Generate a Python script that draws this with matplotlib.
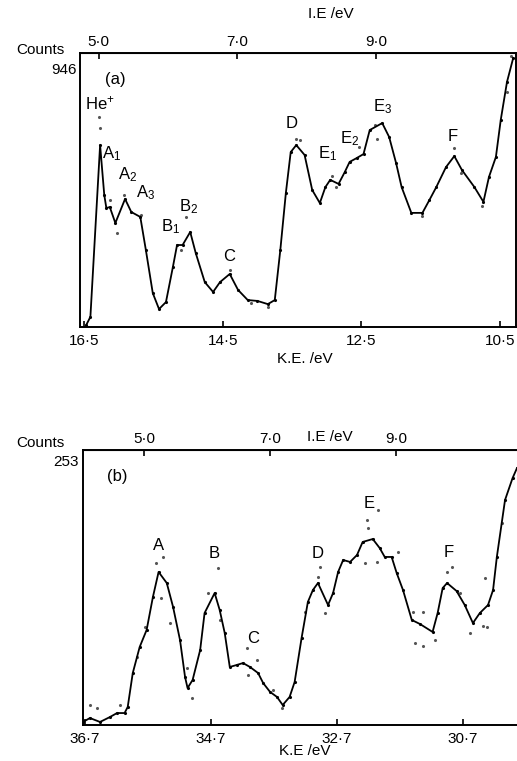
import matplotlib
matplotlib.use('Agg')
import matplotlib.pyplot as plt
from matplotlib.ticker import FuncFormatter

plt.rcParams['font.family'] = ['Liberation Sans', 'DejaVu Sans']
plt.rcParams['mathtext.default'] = 'regular'

# ---- panel (a): He I spectrum, kinetic energy (eV) vs counts
ke_a = [16.47, 16.41, 16.27, 16.21, 16.18, 16.13, 16.05, 15.91, 15.82, 15.69,
        15.61, 15.51, 15.42, 15.32, 15.22, 15.16, 15.08, 14.97, 14.89, 14.76,
        14.64, 14.54, 14.40, 14.28, 14.14, 14.00, 13.85, 13.75, 13.67, 13.59,
        13.52, 13.44, 13.32, 13.21, 13.10, 13.02, 12.95, 12.83, 12.74, 12.67,
        12.57, 12.47, 12.38, 12.20, 12.10, 12.00, 11.92, 11.78, 11.62, 11.52,
        11.42, 11.28, 11.16, 11.05, 10.87, 10.74, 10.66, 10.56, 10.49, 10.40,
        10.31]
counts_a = [7, 35, 628, 456, 411, 414, 359, 442, 397, 380,
            266, 117, 62, 86, 207, 283, 283, 328, 255, 155,
            121, 155, 183, 128, 93, 90, 79, 93, 266, 463,
            604, 628, 594, 473, 428, 483, 508, 494, 535, 570,
            583, 597, 680, 704, 656, 566, 483, 394, 394, 438,
            483, 552, 590, 542, 483, 432, 518, 587, 715, 846,
            929]
raw_ke_a = [16.28, 16.27, 16.13, 16.03, 15.92, 15.68, 15.03, 15.10, 14.40, 14.10,
            13.85, 13.44, 13.39, 12.93, 12.86, 12.53, 12.28, 12.31, 11.16, 11.06,
            10.76, 10.40, 10.34, 11.62]
raw_counts_a = [725, 687, 438, 325, 456, 387, 380, 266, 197, 83,
                69, 649, 646, 521, 483, 621, 649, 697, 618, 532,
                418, 811, 936, 383]
peaks_a = ['He$^{+}$', 'A$_1$', 'A$_2$', 'A$_3$', 'B$_1$', 'B$_2$', 'C', 'D',
           'E$_1$', 'E$_2$', 'E$_3$', 'F']
peak_ke_a = [16.27, 16.10, 15.88, 15.62, 15.26, 14.99, 14.41, 13.51, 12.99, 12.67, 12.20, 11.18]
peak_counts_a = [773, 597, 525, 463, 345, 414, 245, 701, 597, 649, 760, 659]

# ---- panel (b): He II spectrum
ke_b = [36.73, 36.62, 36.46, 36.30, 36.19, 36.07, 36.02, 35.94, 35.83, 35.72,
        35.62, 35.53, 35.40, 35.30, 35.19, 35.11, 35.07, 34.99, 34.87, 34.80,
        34.64, 34.56, 34.48, 34.40, 34.29, 34.19, 34.08, 33.95, 33.87, 33.76,
        33.65, 33.56, 33.45, 33.37, 33.26, 33.16, 33.08, 33.00, 32.84, 32.76,
        32.68, 32.60, 32.49, 32.38, 32.29, 32.13, 32.02, 31.94, 31.83, 31.75,
        31.65, 31.51, 31.38, 31.18, 31.10, 31.02, 30.95, 30.80, 30.67, 30.54,
        30.43, 30.30, 30.22, 30.16, 30.03, 29.91, 29.84]
counts_b = [2.8, 6.4, 2.8, 7.4, 11.0, 11.0, 16.6, 47.8, 71.8, 87.4,
            117.8, 140.8, 130.6, 108.6, 78.2, 44.2, 34.0, 41.4, 69.0, 103.0,
            121.4, 105.8, 84.6, 53.4, 55.2, 57.0, 53.4, 47.8, 38.6, 30.4,
            25.8, 18.4, 25.8, 39.6, 80.0, 113.2, 124.2, 130.6, 110.4, 121.4,
            140.8, 151.8, 150.0, 156.4, 168.4, 171.1, 162.8, 154.6, 154.6, 139.8,
            124.2, 96.6, 92.9, 85.6, 103.0, 126.0, 130.6, 123.3, 110.4, 93.8,
            103.0, 110.4, 124.2, 154.6, 207.0, 227.2, 236.4]
raw_ke_b = [35.57, 35.46, 35.49, 35.35, 35.08, 35.00, 34.75, 34.59, 34.56, 34.13,
            34.11, 36.62, 36.51, 36.14, 35.87, 35.75, 32.22, 32.05, 32.21, 32.26,
            32.07, 31.73, 32.97, 33.00, 32.89, 33.21, 31.46, 31.33, 31.14, 31.49,
            31.33, 30.87, 30.95, 30.75, 30.59, 30.38, 30.32, 30.35, 30.08, 33.72,
            33.57, 33.97]
raw_counts_b = [149, 155, 117, 94, 52, 25, 121, 144, 97, 71,
                46, 18, 16, 18, 63, 90, 189, 198, 181, 149,
                150, 159, 145, 136, 103, 104, 75, 73, 78, 104,
                104, 145, 141, 121, 85, 91, 90, 135, 186, 32,
                16, 60]
peaks_b = ['A', 'B', 'C', 'D', 'E', 'F']
peak_ke_b = [35.53, 34.64, 34.03, 33.00, 32.19, 30.92]
peak_counts_b = [165, 158, 80, 158, 204, 159]

W, H = 517, 761
fig = plt.figure(figsize=(W / 100, H / 100), dpi=100)


def dot_fmt(v, p):
    return f"{v:.1f}".replace('.', '\u00b7')


def draw_panel(rect, ke, counts, raw_ke, raw_counts, labels, lke, lcounts,
               xlim, ymax, ticks, ie_ticks, photon, tag, right_spine=True):
    ax = fig.add_axes(rect)
    ax.plot(ke, counts, color='black', lw=1.3, marker='.', ms=2.5)
    ax.scatter(raw_ke, raw_counts, s=1.5, color='#555555', zorder=1)
    for t, x, y in zip(labels, lke, lcounts):
        ax.text(x, y, t, ha='center', va='center', fontsize=12)
    ax.text(0.08, 0.905, tag, transform=ax.transAxes, ha='center', va='center', fontsize=12)
    ax.set_xlim(*xlim)
    ax.set_ylim(0, ymax)
    ax.set_yticks([])
    ax.set_xticks(ticks)
    ax.xaxis.set_major_formatter(FuncFormatter(dot_fmt))
    ax.tick_params(axis='x', direction='in', length=4, width=1.2, labelsize=11, pad=5)
    for s in ax.spines.values():
        s.set_linewidth(1.4)
    ax.spines['right'].set_visible(right_spine)
    sec = ax.secondary_xaxis('top', functions=(lambda k: photon - k, lambda e: photon - e))
    sec.set_xticks(ie_ticks)
    sec.xaxis.set_major_formatter(FuncFormatter(dot_fmt))
    sec.tick_params(direction='in', length=4, width=1.2, labelsize=11, pad=3)
    return ax


draw_panel([80 / W, 1 - 327 / H, 436 / W, 274 / H], ke_a, counts_a, raw_ke_a, raw_counts_a,
           peaks_a, peak_ke_a, peak_counts_a, (16.56, 10.27), 946,
           [16.5, 14.5, 12.5, 10.5], [5.0, 7.0, 9.0], 21.29, '(a)')
draw_panel([83 / W, 1 - 725 / H, 434 / W, 275 / H], ke_b, counts_b, raw_ke_b, raw_counts_b,
           peaks_b, peak_ke_b, peak_counts_b, (36.73, 29.84), 253,
           [36.7, 34.7, 32.7, 30.7], [5.0, 7.0, 9.0], 40.76, '(b)', right_spine=False)


def ftext(x, y, s, **kw):
    fig.text(x / W, 1 - y / H, s, **kw)


ftext(40, 50, 'Counts', ha='center', va='center', fontsize=11)
ftext(77, 70, '946', ha='right', va='center', fontsize=11)
ftext(331, 14, 'I.E /eV', ha='center', va='center', fontsize=11)
ftext(305, 359, 'K.E. /eV', ha='center', va='center', fontsize=11)
ftext(40, 443, 'Counts', ha='center', va='center', fontsize=11)
ftext(79, 462, '253', ha='right', va='center', fontsize=11)
ftext(330, 437, 'I.E /eV', ha='center', va='center', fontsize=11)
ftext(305, 751, 'K.E /eV', ha='center', va='center', fontsize=11)

fig.savefig('out.png', dpi=100)
